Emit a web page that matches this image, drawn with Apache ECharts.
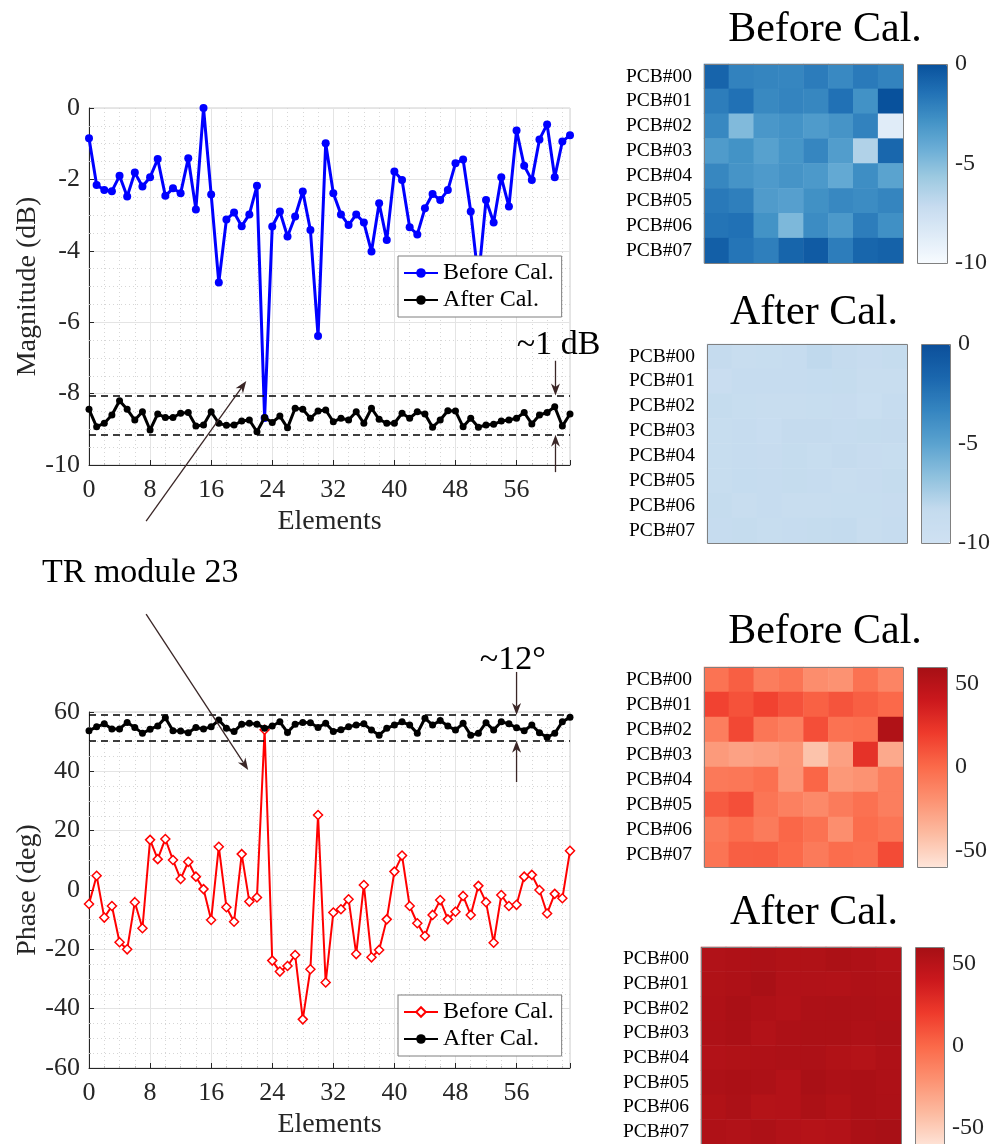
<!DOCTYPE html>
<html>
<head>
<meta charset="utf-8">
<script src="https://cdn.jsdelivr.net/npm/echarts@6/dist/echarts.min.js"></script>
<style>
  html, body { margin: 0; padding: 0; background: #fff; }
  #chart { width: 995px; height: 1144px; }
</style>
</head>
<body>
<div id="chart"></div>
<script>
// magnitude (dB) per element, before / after calibration
const magBefore = [
  -0.85, -2.16, -2.30, -2.33, -1.90, -2.48, -1.81, -2.20,
  -1.94, -1.43, -2.46, -2.25, -2.39, -1.41, -2.84, 0.00,
  -2.42, -4.89, -3.12, -2.93, -3.31, -2.98, -2.18, -8.68,
  -3.32, -2.90, -3.60, -3.04, -2.34, -3.42, -6.39, -0.99,
  -2.39, -2.98, -3.28, -2.98, -3.21, -4.02, -2.67, -3.70,
  -1.78, -2.02, -3.34, -3.54, -2.81, -2.41, -2.58, -2.30,
  -1.55, -1.44, -2.90, -4.80, -2.58, -3.21, -1.94, -2.76,
  -0.63, -1.62, -2.02, -0.88, -0.46, -1.94, -0.94, -0.76
];
const magAfter = [
  -8.44, -8.93, -8.83, -8.60, -8.20, -8.44, -8.74, -8.51,
  -9.02, -8.57, -8.67, -8.67, -8.55, -8.53, -8.91, -8.88,
  -8.51, -8.83, -8.89, -8.88, -8.77, -8.74, -9.07, -8.67,
  -8.81, -8.63, -8.96, -8.41, -8.44, -8.69, -8.49, -8.46,
  -8.79, -8.69, -8.74, -8.51, -8.83, -8.41, -8.72, -8.83,
  -8.83, -8.55, -8.69, -8.51, -8.57, -8.94, -8.74, -8.48,
  -8.49, -8.93, -8.69, -8.94, -8.88, -8.86, -8.77, -8.74,
  -8.69, -8.53, -8.85, -8.60, -8.53, -8.37, -8.91, -8.57
];
// phase (deg) per element
const phaseBefore = [
  -4.7, 4.8, -9.3, -5.4, -17.6, -20.0, -4.1, -12.9,
  16.9, 10.4, 17.2, 10.1, 3.7, 9.5, 4.5, 0.3,
  -10.1, 14.6, -5.8, -10.7, 12.1, -3.9, -2.5, 54.0,
  -23.8, -27.5, -25.6, -21.9, -43.6, -26.7, 25.3, -31.2,
  -7.6, -6.5, -3.1, -21.6, 1.7, -22.7, -20.2, -9.9,
  6.2, 11.6, -5.4, -11.2, -15.5, -8.4, -3.4, -9.9,
  -7.3, -2.0, -8.4, 1.4, -4.1, -17.8, -1.7, -5.4,
  -5.0, 4.5, 5.1, 0.0, -7.9, -1.3, -2.8, 13.2
];
const phaseAfter = [
  53.7, 55.0, 56.0, 54.3, 54.3, 56.5, 54.8, 52.8,
  54.2, 55.3, 58.1, 53.7, 53.6, 53.0, 54.8, 54.3,
  55.0, 57.3, 54.5, 53.4, 55.9, 56.2, 55.9, 54.5,
  55.3, 56.7, 53.1, 55.9, 56.5, 56.4, 54.8, 56.2,
  53.4, 54.0, 55.0, 55.6, 56.0, 53.9, 52.2, 54.5,
  55.6, 56.7, 55.6, 52.8, 57.9, 55.6, 57.1, 55.3,
  53.9, 56.2, 52.2, 52.8, 56.4, 53.9, 56.7, 56.0,
  54.7, 53.7, 55.6, 53.0, 51.5, 52.8, 56.7, 58.2
];
const pcbLabels = ['PCB#00', 'PCB#01', 'PCB#02', 'PCB#03', 'PCB#04', 'PCB#05', 'PCB#06', 'PCB#07'];
const pcbCols = ['1', '2', '3', '4', '5', '6', '7', '8'];
const magBand = [-8.05, -9.15];
const phaseBand = [59, 50.3];
const magBarTicks = [-10, -5, 0];
const phaseBarTicks = [-50, 0, 50];

const FONT = "'Liberation Serif', 'Times New Roman', serif";
const AX = '#262626';
const ARROW = '#3a2626';
const blues = ['#f7fbff', '#deebf7', '#c6dbef', '#9ecae1', '#6baed6', '#4292c6', '#2171b5', '#08519c'];
const bluesAfter = ['#cfe1f2', '#c4dbee', '#8fc1de', '#5aa2cf', '#3585c0', '#1a66ad', '#0b4f9a'];
const reds = ['#fee5d9', '#fcbba1', '#fc9272', '#fb6a4a', '#ef3b2c', '#cb181d', '#a50f15'];

// layout of heatmaps and their colorbars: [left, top, width, height]
const heatLayout = [
  { grid: [704, 64, 199, 199], bar: [917, 64, 30, 199] },
  { grid: [707, 344, 200, 199], bar: [921, 344, 29, 199] },
  { grid: [704, 667, 199, 200], bar: [917, 667, 30, 200] },
  { grid: [701, 947, 200, 200], bar: [915, 947, 29, 200] }
];
const titles = [
  { text: 'Before Cal.', x: 825, y: 30 },
  { text: 'After Cal.', x: 814, y: 313 },
  { text: 'Before Cal.', x: 825, y: 632 },
  { text: 'After Cal.', x: 814, y: 913 }
];

const toCells = arr => arr.map((v, i) => [i % 8, Math.floor(i / 8), v]);
const toPts = arr => arr.map((v, i) => [i, v]);

function lineX(gi) {
  return {
    gridIndex: gi, type: 'value', min: 0, max: 63, interval: 8,
    name: 'Elements', nameLocation: 'middle', nameGap: 43,
    nameTextStyle: { fontFamily: FONT, fontSize: 28, color: AX },
    axisLine: { show: true, onZero: false, lineStyle: { color: AX, width: 1 } },
    axisTick: { inside: true, length: 5, lineStyle: { color: AX } },
    axisLabel: { fontFamily: FONT, fontSize: 26, color: AX, margin: 12,
      formatter: v => (v % 8 === 0 ? String(v) : '') },
    splitLine: { show: true, lineStyle: { color: '#e4e4e4' } },
    minorTick: { show: true, splitNumber: 4, length: 2, lineStyle: { color: '#bbb' } },
    minorSplitLine: { show: true, lineStyle: { color: '#d6d6d6', type: [1, 3] } }
  };
}
function lineY(gi, min, max, interval, name) {
  return {
    gridIndex: gi, type: 'value', min, max, interval,
    name, nameLocation: 'middle', nameGap: 45, nameRotate: 90,
    nameTextStyle: { fontFamily: FONT, fontSize: 28, color: AX },
    axisLine: { show: true, onZero: false, lineStyle: { color: AX, width: 1 } },
    axisTick: { inside: true, length: 5, lineStyle: { color: AX } },
    axisLabel: { fontFamily: FONT, fontSize: 26, color: AX, margin: 9 },
    splitLine: { show: true, lineStyle: { color: '#e4e4e4' } },
    minorTick: { show: true, splitNumber: 4, length: 2, lineStyle: { color: '#bbb' } },
    minorSplitLine: { show: true, lineStyle: { color: '#d6d6d6', type: [1, 3] } }
  };
}

const grids = [
  { left: 89, top: 108, width: 481, height: 357, show: true, borderColor: '#cfcfcf', borderWidth: 1 },
  { left: 89, top: 712, width: 481, height: 356, show: true, borderColor: '#cfcfcf', borderWidth: 1 }
];
const xAxes = [lineX(0), lineX(1)];
const yAxes = [
  lineY(0, -10, 0, 2, 'Magnitude (dB)'),
  lineY(1, -60, 60, 20, 'Phase (deg)')
];

heatLayout.forEach((h, k) => {
  const g = 2 + k;
  grids.push({ left: h.grid[0], top: h.grid[1], width: h.grid[2], height: h.grid[3] });
  xAxes.push({ gridIndex: g, type: 'category', data: pcbCols,
    axisLabel: { show: false }, axisLine: { show: false },
    axisTick: { show: true, inside: true, length: 4, interval: 1, alignWithLabel: true, lineStyle: { color: '#666' } },
    splitLine: { show: false } });
  yAxes.push({ gridIndex: g, type: 'category', data: pcbLabels, inverse: true,
    axisLabel: { fontFamily: FONT, fontSize: 19.5, color: '#000', margin: 12, interval: 0 },
    axisLine: { show: false },
    axisTick: { show: true, inside: true, length: 3, interval: 0, alignWithLabel: true, lineStyle: { color: '#666' } },
    splitLine: { show: false } });
});
heatLayout.forEach((h, k) => {
  const g = 6 + k;
  const isMag = k < 2;
  grids.push({ left: h.bar[0], top: h.bar[1], width: h.bar[2], height: h.bar[3] });
  xAxes.push({ gridIndex: g, type: 'category', data: [''], show: false });
  yAxes.push({ gridIndex: g, type: 'value', position: 'right',
    min: isMag ? -10 : -60, max: isMag ? 0 : 60,
    axisLabel: { fontFamily: FONT, fontSize: 24, color: AX, margin: 8,
      customValues: isMag ? magBarTicks : phaseBarTicks },
    axisTick: { show: true, inside: true, length: 4, lineStyle: { color: '#555' },
      customValues: isMag ? magBarTicks : phaseBarTicks },
    axisLine: { show: false }, splitLine: { show: false } });
});

const markBand = vals => ({
  silent: true, symbol: 'none', label: { show: false },
  lineStyle: { type: [7, 5], color: '#000', width: 1.5 },
  data: vals.map(v => ({ yAxis: v }))
});

const series = [
  { name: 'Before Cal.', type: 'line', xAxisIndex: 0, yAxisIndex: 0, data: toPts(magBefore),
    symbol: 'circle', symbolSize: 8, lineStyle: { color: '#0000ff', width: 3 },
    itemStyle: { color: '#0000ff' }, z: 3 },
  { name: 'After Cal.', type: 'line', xAxisIndex: 0, yAxisIndex: 0, data: toPts(magAfter),
    symbol: 'circle', symbolSize: 7, lineStyle: { color: '#000', width: 3 },
    itemStyle: { color: '#000' }, z: 4, markLine: markBand(magBand) },
  { name: 'Before Cal. ', type: 'line', xAxisIndex: 1, yAxisIndex: 1, data: toPts(phaseBefore),
    symbol: 'diamond', symbolSize: 9, lineStyle: { color: '#ff0000', width: 2 },
    itemStyle: { color: '#fff', borderColor: '#ff0000', borderWidth: 1.5 }, z: 3 },
  { name: 'After Cal. ', type: 'line', xAxisIndex: 1, yAxisIndex: 1, data: toPts(phaseAfter),
    symbol: 'circle', symbolSize: 7, lineStyle: { color: '#000', width: 3 },
    itemStyle: { color: '#000' }, z: 4, markLine: markBand(phaseBand) },
  { type: 'heatmap', xAxisIndex: 2, yAxisIndex: 2, data: toCells(magBefore) },
  { type: 'heatmap', xAxisIndex: 3, yAxisIndex: 3, data: toCells(magAfter) },
  { type: 'heatmap', xAxisIndex: 4, yAxisIndex: 4, data: toCells(phaseBefore) },
  { type: 'heatmap', xAxisIndex: 5, yAxisIndex: 5, data: toCells(phaseAfter) }
];

const colorbar = (k, idx, min, max, colors) => ({
  type: 'continuous', seriesIndex: idx, min, max, inRange: { color: colors },
  left: heatLayout[k].bar[0], top: heatLayout[k].bar[1],
  itemWidth: heatLayout[k].bar[2], itemHeight: heatLayout[k].bar[3],
  calculable: false, padding: 0, hoverLink: false
});

const legendBase = {
  orient: 'vertical', left: 398, padding: [5, 8, 5, 5], itemGap: 3,
  itemWidth: 34, itemHeight: 12, backgroundColor: '#fff',
  borderColor: '#7f7f7f', borderWidth: 1, selectedMode: false,
  textStyle: { fontFamily: FONT, fontSize: 24, color: '#000' }
};

const option = {
  animation: false,
  backgroundColor: '#fff',
  grid: grids,
  xAxis: xAxes,
  yAxis: yAxes,
  visualMap: [
    colorbar(0, 4, -10, 0, blues),
    colorbar(1, 5, -10, 0, bluesAfter),
    colorbar(2, 6, -60, 60, reds),
    colorbar(3, 7, -60, 60, reds)
  ],
  legend: [
    Object.assign({}, legendBase, { top: 256, data: ['Before Cal.', 'After Cal.'] }),
    Object.assign({}, legendBase, { top: 995, data: ['Before Cal. ', 'After Cal. '],
      formatter: n => n.trim() })
  ],
  series
};

const chart = echarts.init(document.getElementById('chart'), null, { renderer: 'canvas' });
chart.setOption(option);

function arrow(from, to) {
  const dx = to[0] - from[0], dy = to[1] - from[1];
  const len = Math.hypot(dx, dy);
  const ux = dx / len, uy = dy / len;
  const hl = 12, hw = 4.5;
  const bx = to[0] - ux * hl, by = to[1] - uy * hl;
  const nx = to[0] - ux * hl * 0.7, ny = to[1] - uy * hl * 0.7;
  return [
    { type: 'line', z: 100, shape: { x1: from[0], y1: from[1], x2: nx, y2: ny },
      style: { stroke: ARROW, lineWidth: 1.3 } },
    { type: 'polygon', z: 100,
      shape: { points: [to, [bx - uy * hw, by + ux * hw], [nx, ny], [bx + uy * hw, by - ux * hw]] },
      style: { fill: ARROW } }
  ];
}
const p0 = (x, y) => chart.convertToPixel({ gridIndex: 0 }, [x, y]);
const p1 = (x, y) => chart.convertToPixel({ gridIndex: 1 }, [x, y]);

const graphics = [];
titles.forEach(t => graphics.push({
  type: 'text', x: t.x, y: t.y, z: 100,
  style: { text: t.text, fontFamily: FONT, fontSize: 42, fill: '#000', textAlign: 'center', textVerticalAlign: 'middle' }
}));
heatLayout.forEach(h => {
  [h.grid, h.bar].forEach(r => graphics.push({
    type: 'rect', z: 100, shape: { x: r[0] + 0.5, y: r[1] + 0.5, width: r[2], height: r[3] },
    style: { fill: 'none', stroke: '#808080', lineWidth: 1 }
  }));
});
// ~1 dB band arrows
graphics.push(...arrow(p0(61.1, -7.08), p0(61.1, magBand[0])));
graphics.push(...arrow(p0(61.1, -10.2), p0(61.1, magBand[1])));
const t1 = p0(61.5, -6.64);
graphics.push({ type: 'text', x: t1[0], y: t1[1], z: 100,
  style: { text: '~1 dB', fontFamily: FONT, fontSize: 34, fill: '#000', textAlign: 'center', textVerticalAlign: 'middle' } });
// ~12 deg band arrows
graphics.push(...arrow(p1(56, 73.5), p1(56, phaseBand[0])));
graphics.push(...arrow(p1(56, 36.4), p1(56, phaseBand[1])));
const t2 = p1(55.5, 77.5);
graphics.push({ type: 'text', x: t2[0], y: t2[1], z: 100,
  style: { text: '~12°', fontFamily: FONT, fontSize: 34, fill: '#000', textAlign: 'center', textVerticalAlign: 'middle' } });
// TR module 23 callout
graphics.push(...arrow(p0(7.48, -11.57), p0(20.6, -7.65)));
graphics.push(...arrow(p1(7.48, 93.0), p1(20.85, 40.45)));
const t3 = p0(-6.16, -13.03);
graphics.push({ type: 'text', x: t3[0], y: t3[1], z: 100,
  style: { text: 'TR module 23', fontFamily: FONT, fontSize: 34, fill: '#000', textAlign: 'left', textVerticalAlign: 'middle' } });

chart.setOption({ graphic: graphics });
</script>
</body>
</html>
